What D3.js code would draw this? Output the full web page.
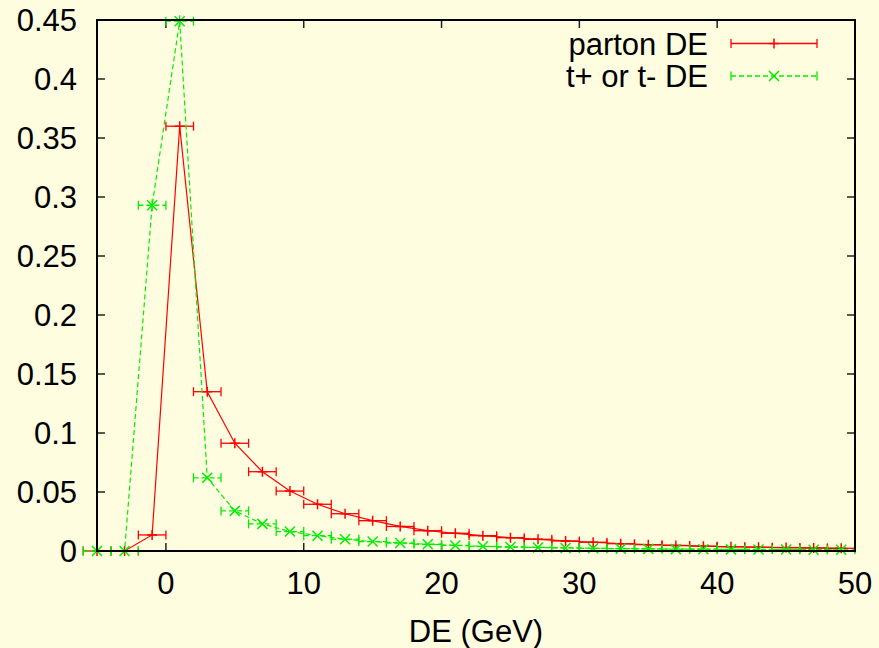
<!DOCTYPE html>
<html>
<head>
<meta charset="utf-8">
<script src="https://cdn.jsdelivr.net/npm/d3@7"></script>
<style>
  html, body { margin: 0; padding: 0; background: #fefde0; }
  svg { display: block; font-family: "Liberation Sans", Arial, sans-serif; }
</style>
</head>
<body>
<div id="chart"></div>
<script>
// bin centres (GeV), each bin is 2 GeV wide
const binCenters = [-5, -3, -1, 1, 3, 5, 7, 9, 11, 13, 15, 17, 19, 21, 23, 25, 27, 29, 31, 33, 35, 37, 39, 41, 43, 45, 47, 49];
const binHalfWidth = 1;
const partonDE = [0, 0, 0.0136, 0.360, 0.135, 0.0913, 0.0672, 0.0508, 0.0396, 0.0316, 0.0257, 0.0208, 0.0172, 0.0150,
  0.0130, 0.0113, 0.0099, 0.0085, 0.0074, 0.0062, 0.0054, 0.0047, 0.0041, 0.0036, 0.0032, 0.0029, 0.0026, 0.0023];
const tauDE = [0, 0, 0.293, 0.449, 0.062, 0.034, 0.023, 0.0165, 0.013, 0.0100, 0.0080, 0.0068, 0.0057, 0.0047,
  0.0040, 0.0034, 0.0030, 0.0026, 0.0023, 0.0020, 0.0018, 0.0016, 0.0015, 0.0014, 0.0013, 0.0012, 0.0011, 0.0010];
// vertical error of the tau series (only visible around the peak)
const tauErr = [0, 0, 0.005, 0.005, 0.001, 0, 0, 0, 0, 0, 0, 0, 0, 0,
  0, 0, 0, 0, 0, 0, 0, 0, 0, 0, 0, 0, 0, 0];
const seriesNames = ["parton DE", "t+ or t- DE"];
const xTicks = [0, 10, 20, 30, 40, 50];
const yTicks = [0, 0.05, 0.1, 0.15, 0.2, 0.25, 0.3, 0.35, 0.4, 0.45];
const xLabel = "DE (GeV)";

const W = 879, H = 648;
const plotLeft = 97, plotRight = 855, plotTop = 20, plotBottom = 551;

const svg = d3.select("#chart")
  .append("svg")
  .attr("width", W)
  .attr("height", H);

svg.append("rect").attr("width", W).attr("height", H).attr("fill", "#fefde0");

const x = d3.scaleLinear().domain([-5, 50]).range([plotLeft, plotRight]);
const y = d3.scaleLinear().domain([0, 0.45]).range([plotBottom, plotTop]);

// ticks (mirrored on all sides, pointing inward)
const tickLen = 8;
const ticks = svg.append("g").attr("stroke", "#222").attr("stroke-width", 1.5);
xTicks.forEach(t => {
  ticks.append("line").attr("x1", x(t)).attr("x2", x(t)).attr("y1", plotBottom).attr("y2", plotBottom - tickLen);
  ticks.append("line").attr("x1", x(t)).attr("x2", x(t)).attr("y1", plotTop).attr("y2", plotTop + tickLen);
});
yTicks.forEach(t => {
  ticks.append("line").attr("x1", plotLeft).attr("x2", plotLeft + tickLen).attr("y1", y(t)).attr("y2", y(t));
  ticks.append("line").attr("x1", plotRight).attr("x2", plotRight - tickLen).attr("y1", y(t)).attr("y2", y(t));
});

// tick labels
svg.append("g").selectAll("text")
  .data(yTicks)
  .join("text")
  .attr("x", 77)
  .attr("y", d => y(d) + 11)
  .attr("text-anchor", "end")
  .attr("font-size", 31)
  .text(d => String(+d.toFixed(2)));

svg.append("g").selectAll("text")
  .data(xTicks)
  .join("text")
  .attr("x", d => x(d))
  .attr("y", 594)
  .attr("text-anchor", "middle")
  .attr("font-size", 31)
  .text(d => d);

svg.append("text")
  .attr("x", (plotLeft + plotRight) / 2)
  .attr("y", 642)
  .attr("text-anchor", "middle")
  .attr("font-size", 31)
  .text(xLabel);

const line = d3.line().x(d => x(d[0])).y(d => y(d[1]));

function drawErrBars(g, data, color, dash) {
  data.forEach(d => {
    const cy = y(d[1]);
    g.append("line")
      .attr("x1", x(d[0] - binHalfWidth)).attr("x2", x(d[0] + binHalfWidth))
      .attr("y1", cy).attr("y2", cy)
      .attr("stroke", color).attr("stroke-width", 1.3)
      .attr("stroke-dasharray", dash);
    [d[0] - binHalfWidth, d[0] + binHalfWidth].forEach(e => {
      g.append("line")
        .attr("x1", x(e)).attr("x2", x(e))
        .attr("y1", cy - 4.5).attr("y2", cy + 4.5)
        .attr("stroke", color).attr("stroke-width", 1.3);
    });
    if (d[2]) {
      g.append("line")
        .attr("x1", x(d[0])).attr("x2", x(d[0]))
        .attr("y1", y(d[1] - d[2])).attr("y2", y(d[1] + d[2]))
        .attr("stroke", color).attr("stroke-width", 1.3);
    }
  });
}

function plusMark(g, px, py, color) {
  g.append("path")
    .attr("d", `M${px - 5},${py}H${px + 5}M${px},${py - 5}V${py + 5}`)
    .attr("stroke", color).attr("stroke-width", 1.5).attr("fill", "none");
}
function crossMark(g, px, py, color) {
  g.append("path")
    .attr("d", `M${px - 5},${py - 5}L${px + 5},${py + 5}M${px - 5},${py + 5}L${px + 5},${py - 5}`)
    .attr("stroke", color).attr("stroke-width", 1.5).attr("fill", "none");
}

const red = "#ff0000", green = "#00ee00";

// parton series
const redData = binCenters.map((c, i) => [c, partonDE[i], 0]);
const gRed = svg.append("g");
drawErrBars(gRed, redData, red, null);
gRed.append("path").datum(redData).attr("d", line)
  .attr("fill", "none").attr("stroke", red).attr("stroke-width", 1.2);
redData.forEach(d => plusMark(gRed, x(d[0]), y(d[1]), red));

// tau series
const greenData = binCenters.map((c, i) => [c, tauDE[i], tauErr[i]]);
const gGreen = svg.append("g");
drawErrBars(gGreen, greenData, green, "5,3");
gGreen.append("path").datum(greenData).attr("d", line)
  .attr("fill", "none").attr("stroke", green).attr("stroke-width", 1.2)
  .attr("stroke-dasharray", "5,3");
greenData.forEach(d => crossMark(gGreen, x(d[0]), y(d[1]), green));

// border
svg.append("rect")
  .attr("x", plotLeft).attr("y", plotTop)
  .attr("width", plotRight - plotLeft).attr("height", plotBottom - plotTop)
  .attr("fill", "none").attr("stroke", "#000").attr("stroke-width", 2);

// legend
const legend = svg.append("g");
const legendRows = [
  { name: seriesNames[0], color: red, dash: null, mark: "plus", y: 43.5 },
  { name: seriesNames[1], color: green, dash: "5,3", mark: "cross", y: 76 }
];
legendRows.forEach(r => {
  legend.append("text")
    .attr("x", 708).attr("y", r.y + 11)
    .attr("text-anchor", "end").attr("font-size", 31)
    .text(r.name);
  legend.append("line")
    .attr("x1", 731).attr("x2", 817).attr("y1", r.y).attr("y2", r.y)
    .attr("stroke", r.color).attr("stroke-width", 1.3)
    .attr("stroke-dasharray", r.dash);
  [731, 817].forEach(e => legend.append("line")
    .attr("x1", e).attr("x2", e).attr("y1", r.y - 4.5).attr("y2", r.y + 4.5)
    .attr("stroke", r.color).attr("stroke-width", 1.3));
  if (r.mark === "plus") plusMark(legend, 774, r.y, r.color);
  else crossMark(legend, 774, r.y, r.color);
});
</script>
</body>
</html>
